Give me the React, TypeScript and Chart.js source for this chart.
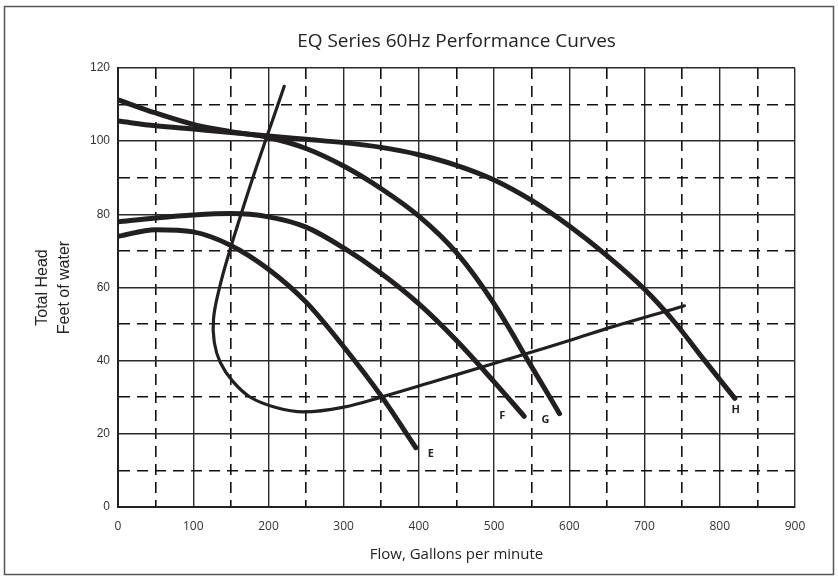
import React, { useEffect, useRef } from "react";
import { Chart, registerables } from "chart.js";

Chart.register(...registerables);

// ---- data ----
const curveNames = ["E", "F", "G", "H"];

const flowE = [0, 50, 100, 150, 200, 250, 300, 350, 396];
const headE = [74, 75.8, 75.2, 71.5, 65, 56, 43.8, 30.3, 16.2];

const flowF = [0, 50, 100, 150, 200, 250, 300, 350, 400, 450, 500, 540];
const headF = [78, 79, 79.8, 80.2, 79.3, 76.5, 70.8, 63.8, 55.5, 45.5, 34.2, 24.8];

const flowG = [0, 50, 100, 150, 200, 250, 300, 350, 400, 450, 500, 550, 587];
const headG = [111.3, 107.7, 104.6, 102.6, 101, 98, 93.2, 87, 79.5, 69.5, 55.5, 38.3, 25.5];

const flowH = [0, 50, 100, 150, 200, 250, 300, 350, 400, 450, 500, 550, 600, 650, 700, 740, 780, 820];
const headH = [105.5, 104.2, 103.3, 102.4, 101.4, 100.5, 99.6, 98.3, 96.3, 93.4, 89.4, 83.8, 76.8, 68.7, 59.5, 50.5, 40, 29.7];

// system curve (loop)
const flowSys = [221, 200, 180, 162, 147, 135, 127, 128, 136, 152, 176, 210, 247, 300, 351, 420, 483, 538, 600, 658, 725, 753];
const headSys = [115, 102.5, 90.5, 79, 69, 60, 51.5, 45, 39.5, 34.5, 30, 27.2, 26, 27.3, 30.1, 34.3, 38.2, 41.6, 45.5, 49.3, 53.3, 55];

const xMin = 0;
const xMax = 900;
const xStep = 50;
const xLabelEvery = 100;
const yMin = 0;
const yMax = 120;
const yStep = 10;
const yLabelEvery = 20;

const titleText = "EQ Series 60Hz Performance Curves";
const xTitle = "Flow, Gallons per minute";
const yTitle = ["Total Head", "Feet of water"];

function pts(xs: number[], ys: number[]) {
  return xs.map((x, i) => ({ x, y: ys[i] }));
}

const INK = "#231f20";

export default function App() {
  const ref = useRef<HTMLCanvasElement | null>(null);

  useEffect(() => {
    if (!ref.current) return;

    const framePlugin = {
      id: "frame",
      afterDraw(chart: any) {
        const c = chart.ctx;
        c.save();
        c.strokeStyle = "#555";
        c.lineWidth = 1.5;
        c.strokeRect(4.5, 6.5, chart.width - 9, chart.height - 13);
        c.restore();
      },
    };

    // pixel offsets of the curve letters from each curve's last point
    const labelOffsets: Record<string, [number, number]> = {
      E: [15, 6],
      F: [-22, 0],
      G: [-14, 6],
      H: [1, 12],
    };

    const curveLabelPlugin = {
      id: "curveLabels",
      afterDatasetsDraw(chart: any) {
        const c = chart.ctx;
        const xs = chart.scales.x;
        const ys = chart.scales.y;
        c.save();
        c.fillStyle = INK;
        c.font = "bold 11px 'Open Sans'";
        c.textAlign = "center";
        c.textBaseline = "middle";
        chart.data.datasets.forEach((ds: any) => {
          const name = ds.label as string;
          if (!curveNames.includes(name)) return;
          const last = ds.data[ds.data.length - 1];
          const off = labelOffsets[name] || [0, 0];
          c.fillText(name, xs.getPixelForValue(last.x) + off[0], ys.getPixelForValue(last.y) + off[1]);
        });
        c.restore();
      },
    };

    const pumpStyle = {
      borderColor: INK,
      borderWidth: 5,
      pointRadius: 0,
      cubicInterpolationMode: "monotone" as const,
      fill: false,
      borderCapStyle: "round" as const,
      borderJoinStyle: "round" as const,
    };

    const isMinor = (v: number, every: number) => Math.abs(v % every) > 1e-6;

    const chart = new Chart(ref.current, {
      type: "line",
      data: {
        datasets: [
          { label: "E", data: pts(flowE, headE), ...pumpStyle },
          { label: "F", data: pts(flowF, headF), ...pumpStyle },
          { label: "G", data: pts(flowG, headG), ...pumpStyle },
          { label: "H", data: pts(flowH, headH), ...pumpStyle },
          {
            label: "System",
            data: pts(flowSys, headSys),
            borderColor: INK,
            borderWidth: 3.2,
            pointRadius: 0,
            tension: 0.4,
            fill: false,
            borderCapStyle: "round",
            borderJoinStyle: "round",
          },
        ],
      },
      plugins: [framePlugin, curveLabelPlugin],
      options: {
        animation: false,
        responsive: true,
        maintainAspectRatio: false,
        layout: { padding: { left: 0, right: 43, top: 0, bottom: 0 } },
        plugins: {
          legend: { display: false },
          tooltip: { enabled: false },
          title: {
            display: true,
            text: titleText,
            fullSize: false,
            color: "#222",
            font: { family: "'Open Sans'", size: 19, weight: "normal", lineHeight: 1.2 },
            padding: { top: 30, bottom: 15.2 },
          },
        },
        scales: {
          x: {
            type: "linear",
            min: xMin,
            max: xMax,
            afterFit: (s: any) => {
              s.height = 74;
            },
            ticks: {
              stepSize: xStep,
              autoSkip: false,
              maxRotation: 0,
              padding: 12,
              color: "#333",
              font: { family: "'Open Sans'", size: 12 },
              callback: (v: any) => (isMinor(Number(v), xLabelEvery) ? "" : String(v)),
            },
            grid: {
              drawTicks: false,
              color: (ctx: any) => (ctx.tick && isMinor(ctx.tick.value, xLabelEvery) ? "#111" : "#2a2a2a"),
              lineWidth: (ctx: any) => (ctx.tick && isMinor(ctx.tick.value, xLabelEvery) ? 1.6 : 1.4),
            },
            border: {
              display: true,
              color: "#222",
              width: 2,
              dash: (ctx: any) => (ctx.tick && isMinor(ctx.tick.value, xLabelEvery) ? [11, 7] : []),
            },
            title: {
              display: true,
              text: xTitle,
              color: "#222",
              font: { family: "'Open Sans'", size: 15, lineHeight: 1.2 },
              padding: { top: 0, bottom: 17 },
            },
          },
          y: {
            type: "linear",
            min: yMin,
            max: yMax,
            afterFit: (s: any) => {
              s.width = 118;
            },
            ticks: {
              stepSize: yStep,
              autoSkip: false,
              padding: 8,
              color: "#333",
              font: { family: "'Liberation Sans'", size: 12 },
              callback: (v: any) => (isMinor(Number(v), yLabelEvery) ? "" : String(v)),
            },
            grid: {
              drawTicks: false,
              color: (ctx: any) => (ctx.tick && isMinor(ctx.tick.value, yLabelEvery) ? "#111" : "#2a2a2a"),
              lineWidth: (ctx: any) => (ctx.tick && isMinor(ctx.tick.value, yLabelEvery) ? 1.6 : 1.4),
            },
            border: {
              display: true,
              color: "#222",
              width: 2,
              dash: (ctx: any) => (ctx.tick && isMinor(ctx.tick.value, yLabelEvery) ? [11, 7] : []),
            },
            title: {
              display: true,
              text: yTitle,
              color: "#222",
              font: { family: "'Liberation Sans'", size: 16, lineHeight: 1.375 },
              padding: { top: 32, bottom: 0 },
            },
          },
        },
      } as any,
    });

    return () => chart.destroy();
  }, []);

  return (
    <div style={{ position: "absolute", left: 0, top: 0, width: 838, height: 581, background: "#fff" }}>
      <canvas ref={ref} />
    </div>
  );
}
